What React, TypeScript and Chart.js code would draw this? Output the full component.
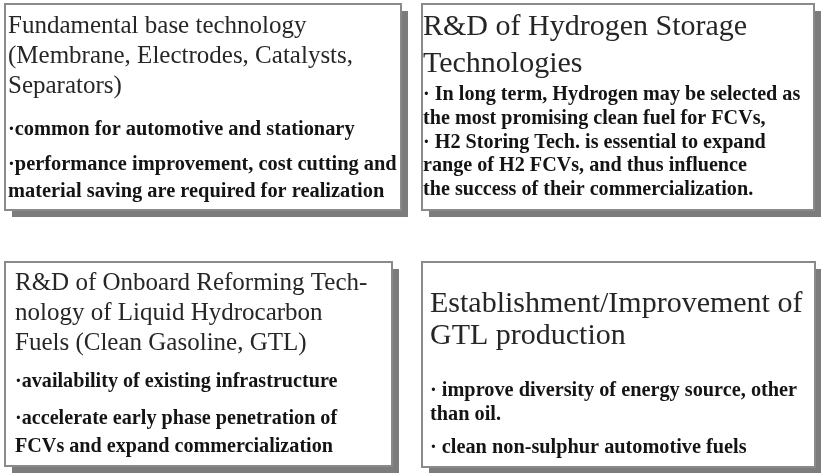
import React, { useEffect, useRef } from "react";
import { Chart, registerables } from "chart.js";

Chart.register(...registerables);

// ---- content ----
const box1Title = ["Fundamental base technology", "(Membrane, Electrodes, Catalysts,", "Separators)"];
const box1Bullets = [
  "·common for automotive and stationary",
  "·performance improvement, cost cutting and",
  "material saving are required for realization",
];
const box2Title = ["R&D of Hydrogen Storage", "Technologies"];
const box2Bullets = [
  "· In long term, Hydrogen may be selected as",
  "the most promising clean fuel for FCVs,",
  "· H2 Storing Tech. is essential to expand",
  "range of H2 FCVs, and thus influence",
  "the success of their commercialization.",
];
const box3Title = ["R&D of Onboard Reforming Tech-", "nology of Liquid Hydrocarbon", "Fuels (Clean Gasoline, GTL)"];
const box3Bullets = [
  "·availability of existing infrastructure",
  "·accelerate early phase penetration of",
  "FCVs and expand commercialization",
];
const box4Title = ["Establishment/Improvement of", "GTL production"];
const box4Bullets = [
  "· improve diversity of energy source, other",
  "than oil.",
  "· clean non-sulphur automotive fuels",
];

// ---- layout (in scale units, 0..821 x 0..473) ----
const layout = [
  { rect: [5, 4, 401, 210], tx: 8, titleSize: 25, titleY: [33, 63, 93], bulletSize: 20.4, bulletY: [135, 170, 197] },
  { rect: [422, 4, 814, 210], tx: 423, titleSize: 30, titleY: [35, 72], bulletSize: 20.15, bulletY: [100, 123.7, 147.5, 171.3, 195] },
  { rect: [5, 262, 392, 466], tx: 15, titleSize: 25, titleY: [290, 320, 350], bulletSize: 20.15, bulletY: [387, 424, 452] },
  { rect: [422, 262, 815, 467], tx: 430, titleSize: 30, titleY: [312, 344], bulletSize: 20.3, bulletY: [396, 420, 453] },
];
const contents = [
  { title: box1Title, bullets: box1Bullets },
  { title: box2Title, bullets: box2Bullets },
  { title: box3Title, bullets: box3Bullets },
  { title: box4Title, bullets: box4Bullets },
];

const boxesPlugin = {
  id: "boxes",
  beforeDraw(chart: any) {
    const ctx = chart.ctx;
    ctx.save();
    ctx.fillStyle = "#ffffff";
    ctx.fillRect(0, 0, chart.width, chart.height);
    ctx.restore();
  },
  afterDraw(chart: any) {
    const ctx = chart.ctx;
    const xs = chart.scales.x;
    const ys = chart.scales.y;
    ctx.save();
    layout.forEach((L, i) => {
      const x0 = xs.getPixelForValue(L.rect[0]);
      const y0 = ys.getPixelForValue(L.rect[1]);
      const x1 = xs.getPixelForValue(L.rect[2]);
      const y1 = ys.getPixelForValue(L.rect[3]);
      // shadow
      ctx.fillStyle = "#7c7c7c";
      ctx.fillRect(x0 + 7, y0 + 7, x1 - x0, y1 - y0);
      // box
      ctx.fillStyle = "#ffffff";
      ctx.fillRect(x0, y0, x1 - x0, y1 - y0);
      ctx.strokeStyle = "#8a8a8a";
      ctx.lineWidth = 2;
      ctx.strokeRect(x0, y0, x1 - x0, y1 - y0);
      const c = contents[i];
      const tx = xs.getPixelForValue(L.tx);
      ctx.textAlign = "left";
      ctx.textBaseline = "alphabetic";
      ctx.fillStyle = "#262626";
      ctx.font = `${L.titleSize}px "Liberation Serif", "Times New Roman", serif`;
      c.title.forEach((t, j) => ctx.fillText(t, tx, ys.getPixelForValue(L.titleY[j])));
      ctx.fillStyle = "#141414";
      ctx.font = `bold ${L.bulletSize}px "Liberation Serif", "Times New Roman", serif`;
      c.bullets.forEach((t, j) => ctx.fillText(t, tx, ys.getPixelForValue(L.bulletY[j])));
    });
    ctx.restore();
  },
};

export default function App() {
  const ref = useRef<HTMLCanvasElement | null>(null);
  useEffect(() => {
    document.body.style.margin = "0";
    const chart = new Chart(ref.current as HTMLCanvasElement, {
      type: "scatter",
      data: { datasets: [{ data: [] }] },
      options: {
        animation: false,
        responsive: true,
        maintainAspectRatio: false,
        layout: { padding: 0 },
        plugins: { legend: { display: false }, tooltip: { enabled: false } },
        scales: {
          x: { type: "linear", min: 0, max: 821, display: false },
          y: { type: "linear", min: 0, max: 473, reverse: true, display: false },
        },
      },
      plugins: [boxesPlugin],
    } as any);
    return () => chart.destroy();
  }, []);
  return (
    <div style={{ position: "absolute", left: 0, top: 0, width: 821, height: 473 }}>
      <canvas ref={ref} />
    </div>
  );
}
